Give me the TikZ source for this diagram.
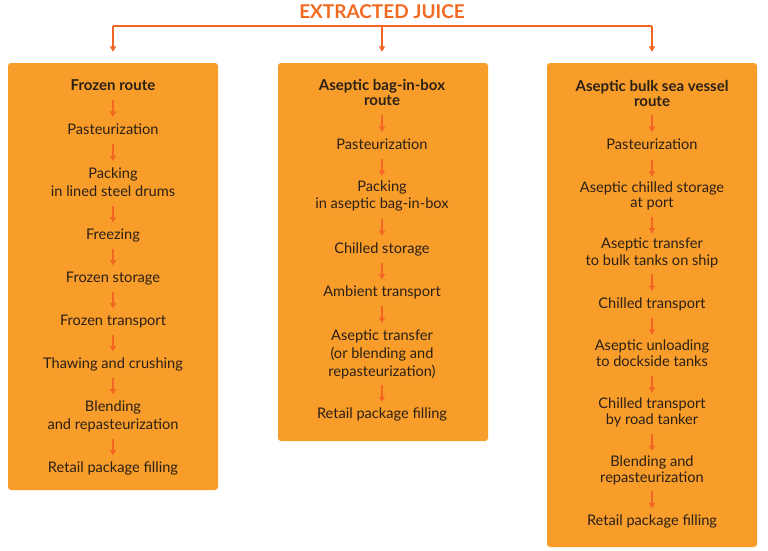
\documentclass[tikz,border=0pt]{standalone}
\usepackage{fontspec}
\setmainfont{Lato}
\usetikzlibrary{arrows.meta,calc}
\definecolor{boxfill}{HTML}{F89D2A}
\definecolor{arrowc}{HTML}{F26522}
\definecolor{titlec}{HTML}{F26A21}
\definecolor{txt}{HTML}{2A2016}
\newcommand{\flowarrow}[2]{%
  \path (#1.south) -- (#2.north) coordinate[midway] (m-#1-#2);
  \draw[arr] ([yshift=8.5pt]m-#1-#2) -- ([yshift=-8.5pt]m-#1-#2);}
\begin{document}
\begin{tikzpicture}[x=1pt,y=-1pt,
  route/.style={fill=boxfill, rounded corners=3pt, draw=none, inner sep=0pt},
  textbase/.style={inner sep=0pt, align=center, text=txt, yshift=-1.5pt},
  stepl/.style={textbase, font=\fontsize{14.6}{18}\selectfont},
  stepm/.style={textbase, font=\fontsize{14.6}{17}\selectfont},
  stept/.style={textbase, font=\fontsize{14.6}{15}\selectfont},
  head/.style={textbase, font=\bfseries\fontsize{15}{15}\selectfont},
  toptitle/.style={inner sep=0pt, text=titlec, yshift=-1pt, font=\bfseries\fontsize{19}{20}\selectfont},
  arr/.style={draw=arrowc, line width=1.25pt, -{Triangle[length=5.5pt,width=6pt]}},
  feed/.style={draw=arrowc, line width=1.3pt},
]
\useasboundingbox (0,0) rectangle (768,550);

% boxes
\node[route, minimum width=210pt, minimum height=427pt] (box1) at (113,276.5) {};
\node[route, minimum width=210pt, minimum height=378pt] (box2) at (383,252) {};
\node[route, minimum width=210pt, minimum height=484pt] (box3) at (652,305) {};

% title and feed
\node[toptitle] (title) at (382,11) {EXTRACTED JUICE};
\coordinate (jL) at (113,26);
\coordinate (jM) at (382,26);
\coordinate (jR) at (652,26);
\draw[feed] (jL) -- (jR);
\draw[arr] (jL) -- ([yshift=11pt]box1.north -| jL);
\draw[arr] (jM) -- ([yshift=11pt]box2.north -| jM);
\draw[arr] (jR) -- ([yshift=11pt]box3.north -| jR);

% box 1
\node[head] (h1) at (113,86) {\strut Frozen route};
\node[stepl] (a1) at (113,129) {\strut Pasteurization};
\node[stepl] (a2) at (113,182) {\strut Packing\\\strut in lined steel drums};
\node[stepl] (a3) at (113,234) {\strut Freezing};
\node[stepl] (a4) at (113,277) {\strut Frozen storage};
\node[stepl] (a5) at (113,320) {\strut Frozen transport};
\node[stepl] (a6) at (113,363) {\strut Thawing and crushing};
\node[stepl] (a7) at (113,415) {\strut Blending\\\strut and repasteurization};
\node[stepl] (a8) at (113,467) {\strut Retail package filling};
\flowarrow{h1}{a1}
\flowarrow{a1}{a2}
\flowarrow{a2}{a3}
\flowarrow{a3}{a4}
\flowarrow{a4}{a5}
\flowarrow{a5}{a6}
\flowarrow{a6}{a7}
\flowarrow{a7}{a8}

% box 2
\node[head] (h2) at (382,93.5) {\strut Aseptic bag-in-box\\\strut route};
\node[stepl] (b1) at (382,144) {\strut Pasteurization};
\node[stepm] (b2) at (382,195.5) {\strut Packing\\\strut in aseptic bag-in-box};
\node[stepl] (b3) at (382,248) {\strut Chilled storage};
\node[stepl] (b4) at (382,291) {\strut Ambient transport};
\node[stepl] (b5) at (382,353) {\strut Aseptic transfer\\(or blending and\\\strut repasteurization)};
\node[stepl] (b6) at (382,413) {\strut Retail package filling};
\flowarrow{h2}{b1}
\flowarrow{b1}{b2}
\flowarrow{b2}{b3}
\flowarrow{b3}{b4}
\flowarrow{b4}{b5}
\flowarrow{b5}{b6}

% box 3
\node[head] (h3) at (652,94) {\strut Aseptic bulk sea vessel\\\strut route};
\node[stepl] (c1) at (652,144) {\strut Pasteurization};
\node[stept] (c2) at (652,195.5) {\strut Aseptic chilled storage\\\strut at port};
\node[stept] (c3) at (652,252.5) {\strut Aseptic transfer\\\strut to bulk tanks on ship};
\node[stepl] (c4) at (652,303) {\strut Chilled transport};
\node[stept] (c5) at (652,353.5) {\strut Aseptic unloading\\\strut to dockside tanks};
\node[stept] (c6) at (652,412) {\strut Chilled transport\\\strut by road tanker};
\node[stept] (c7) at (652,470) {\strut Blending and\\\strut repasteurization};
\node[stepl] (c8) at (652,520) {\strut Retail package filling};
\flowarrow{h3}{c1}
\flowarrow{c1}{c2}
\flowarrow{c2}{c3}
\flowarrow{c3}{c4}
\flowarrow{c4}{c5}
\flowarrow{c5}{c6}
\flowarrow{c6}{c7}
\flowarrow{c7}{c8}
\end{tikzpicture}
\end{document}
